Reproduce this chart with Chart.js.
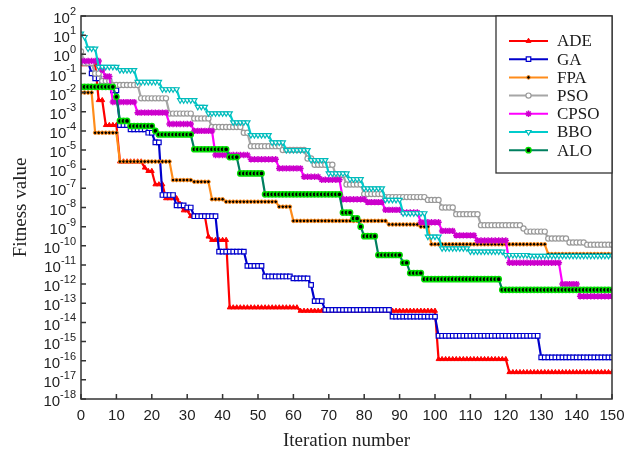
<!DOCTYPE html>
<html>
<head>
<meta charset="utf-8">
<script src="https://cdn.jsdelivr.net/npm/chart.js@4.4.1/dist/chart.umd.min.js"></script>
<style>
body { margin: 0; background: #fff; }
</style>
</head>
<body>
<canvas id="fitChart" width="624" height="455"></canvas>
<script>
var lastIteration = 150;
var seriesNames = ["ADE", "GA", "FPA", "PSO", "CPSO", "BBO", "ALO"];

// each pair: [iteration where the level starts, best fitness value]
var adeSteps = [[0, 3e-1], [5, 4e-3], [7, 2e-4], [11, 2.5e-6], [18, 1.2e-6], [19, 8e-7], [21, 1.6e-7],
    [24, 3e-8], [28, 1.5e-8], [29, 7e-9], [31, 3.5e-9], [36, 3e-10], [37, 2e-10], [42, 6e-14],
    [62, 4e-14], [101, 1.2e-16], [121, 2.5e-17]];
var gaSteps = [[0, 4e-1], [3, 1e-1], [4, 5.6e-2], [6, 4e-2], [9, 1.3e-2], [11, 2e-4], [14, 1.2e-4],
    [19, 8e-5], [21, 2.5e-5], [23, 4.5e-8], [27, 1.3e-8], [30, 1e-8], [32, 3.5e-9], [39, 5e-11],
    [47, 9e-12], [52, 2.5e-12], [60, 2e-12], [65, 9e-13], [66, 1.3e-13], [69, 4.5e-14],
    [88, 2e-14], [101, 2e-15], [130, 1.5e-16]];
var fpaSteps = [[0, 1e-2], [4, 8e-5], [11, 2.5e-6], [26, 2.7e-7], [32, 2.2e-7], [37, 2.7e-8],
    [41, 2e-8], [56, 1.1e-8], [60, 2e-9], [87, 1.3e-9], [96, 1e-9], [99, 1.2e-10], [132, 3.7e-11]];
var psoSteps = [[0, 1.4], [1, 3.5e-1], [4, 1e-1], [6, 4e-2], [9, 2.5e-2], [17, 5e-3], [25, 8e-4],
    [32, 4.5e-4], [37, 1.6e-4], [46, 8e-5], [48, 1.6e-5], [57, 1e-5], [64, 3.6e-6], [66, 1.7e-6],
    [72, 5e-7], [75, 1.6e-7], [80, 5e-8], [86, 3.5e-8], [98, 2.5e-8], [102, 1e-8], [106, 4.5e-9],
    [113, 1.2e-9], [125, 8e-10], [126, 5.5e-10], [132, 2.4e-10], [138, 1.5e-10], [143, 1.15e-10]];
var cpsoSteps = [[0, 4.5e-1], [6, 1.5e-1], [7, 7e-2], [9, 3.2e-3], [16, 9e-4], [25, 2.3e-4],
    [32, 1e-4], [38, 5.5e-6], [48, 3.3e-6], [56, 1.1e-6], [63, 4e-7], [68, 2.8e-7], [74, 2.7e-8],
    [81, 1.9e-8], [86, 7.5e-9], [91, 5.5e-9], [96, 1.7e-9], [102, 6e-10], [106, 3.5e-10],
    [112, 1.9e-10], [121, 1.3e-11], [136, 1e-12], [141, 2.3e-13]];
var bboSteps = [[0, 12], [1, 8], [2, 2], [5, 2.2e-1], [11, 1.5e-1], [16, 3.6e-2], [23, 1.5e-2],
    [28, 4e-3], [33, 1.8e-3], [36, 8.3e-4], [43, 2.8e-4], [48, 6e-5], [54, 2.5e-5], [58, 1e-5],
    [65, 3e-6], [70, 6e-7], [76, 3e-7], [80, 1e-7], [86, 2.5e-8], [91, 5e-9], [98, 3e-10],
    [102, 7.4e-11], [110, 5e-11], [120, 3.3e-11], [127, 3e-11]];
var aloSteps = [[0, 2e-2], [10, 6e-3], [11, 3.3e-4], [14, 1.8e-4], [21, 1e-4], [22, 6.5e-5],
    [32, 1.1e-5], [42, 4.3e-6], [45, 6e-7], [52, 4.9e-8], [74, 5.4e-9], [77, 2.7e-9], [79, 1e-9],
    [80, 3.2e-10], [84, 3.3e-11], [91, 1.3e-11], [93, 3.8e-12], [97, 1.8e-12], [119, 5e-13]];

var yExponents = [-18, -17, -16, -15, -14, -13, -12, -11, -10, -9, -8, -7, -6, -5, -4, -3, -2, -1, 0, 1, 2];
var xTickStep = 10;

var allSteps = [adeSteps, gaSteps, fpaSteps, psoSteps, cpsoSteps, bboSteps, aloSteps];

var looks = [
    { line: "#ff0000", point: "triangle", rot: 0, fill: "#ff0000", edge: "#ff0000", r: 2.8, bw: 1 },
    { line: "#0000cc", point: "rect", rot: 0, fill: "#ffffff", edge: "#0000cc", r: 3.2, bw: 1.2 },
    { line: "#ff8c1a", point: "circle", rot: 0, fill: "#000000", edge: "#ff8c1a", r: 1.8, bw: 1 },
    { line: "#a6a6a6", point: "circle", rot: 0, fill: "#ffffff", edge: "#999999", r: 2.6, bw: 1.2 },
    { line: "#ff00ff", point: "star", rot: 0, fill: "#cc00cc", edge: "#cc00cc", r: 3.2, bw: 1.5 },
    { line: "#00cccc", point: "triangle", rot: 180, fill: "#ffffff", edge: "#00bcbc", r: 3, bw: 1.2 },
    { line: "#007f5f", point: "circle", rot: 0, fill: "#000000", edge: "#00dd00", r: 2.6, bw: 1.5 }
];

// step levels are held until the next improvement
function levelsPerIteration(steps) {
    var pts = [];
    var k = 0;
    for (var it = 0; it <= lastIteration; it++) {
        while (k + 1 < steps.length && steps[k + 1][0] <= it) k++;
        pts.push({ x: it, y: steps[k][1] });
    }
    return pts;
}

var datasets = seriesNames.map(function (name, i) {
    var s = looks[i];
    return {
        label: name,
        data: levelsPerIteration(allSteps[i]),
        borderColor: s.line,
        borderWidth: 2.2,
        backgroundColor: s.fill,
        pointStyle: s.point,
        pointRotation: s.rot,
        pointRadius: s.r,
        pointBackgroundColor: s.fill,
        pointBorderColor: s.edge,
        pointBorderWidth: s.bw,
        tension: 0,
        order: seriesNames.length - i
    };
});

var tickFont = "'Liberation Sans', Arial, sans-serif";

var framePlugin = {
    id: "frame",
    afterDatasetsDraw: function (chart) {
        var a = chart.chartArea, ctx = chart.ctx;
        ctx.save();
        ctx.strokeStyle = "#333";
        ctx.lineWidth = 1.5;
        ctx.strokeRect(a.left, a.top, a.right - a.left, a.bottom - a.top);
        ctx.beginPath();
        chart.scales.x.ticks.forEach(function (t) {
            var px = chart.scales.x.getPixelForValue(t.value);
            ctx.moveTo(px, a.bottom);
            ctx.lineTo(px, a.bottom - 5);
        });
        chart.scales.y.ticks.forEach(function (t) {
            var py = chart.scales.y.getPixelForValue(t.value);
            ctx.moveTo(a.left, py);
            ctx.lineTo(a.left + 5, py);
        });
        ctx.stroke();

        // power-of-ten labels with a raised exponent
        ctx.fillStyle = "#222";
        ctx.textBaseline = "middle";
        ctx.textAlign = "left";
        chart.scales.y.ticks.forEach(function (t) {
            var e = String(Math.round(Math.log10(t.value)));
            var py = chart.scales.y.getPixelForValue(t.value);
            ctx.font = "11px " + tickFont;
            var we = ctx.measureText(e).width;
            ctx.font = "15px " + tickFont;
            var wb = ctx.measureText("10").width;
            var right = a.left - 5;
            ctx.fillText("10", right - we - wb, py + 3);
            ctx.font = "11px " + tickFont;
            ctx.fillText(e, right - we, py - 4);
        });
        ctx.restore();
    }
};

var boxLegend = {
    id: "boxLegend",
    afterDraw: function (chart) {
        var a = chart.chartArea, ctx = chart.ctx;
        var left = a.right - 116, top = a.top, w = 116, h = 157;
        ctx.save();
        ctx.fillStyle = "#ffffff";
        ctx.fillRect(left, top, w, h);
        ctx.strokeStyle = "#333";
        ctx.lineWidth = 1.3;
        ctx.strokeRect(left, top, w, h);
        ctx.font = "17px 'Liberation Serif', 'Times New Roman', serif";
        ctx.textBaseline = "middle";
        chart.data.datasets.forEach(function (ds, i) {
            var y = top + 25 + i * 18.2;
            ctx.strokeStyle = ds.borderColor;
            ctx.lineWidth = 2;
            ctx.beginPath();
            ctx.moveTo(left + 13, y);
            ctx.lineTo(left + 52, y);
            ctx.stroke();
            ctx.fillStyle = ds.pointBackgroundColor;
            ctx.strokeStyle = ds.pointBorderColor;
            ctx.lineWidth = ds.pointBorderWidth;
            Chart.helpers.drawPoint(ctx, {
                pointStyle: ds.pointStyle, rotation: ds.pointRotation,
                radius: ds.pointRadius, borderWidth: ds.pointBorderWidth
            }, left + 32.5, y);
            ctx.fillStyle = "#1a1a1a";
            ctx.fillText(ds.label, left + 61, y + 1);
        });
        ctx.restore();
    }
};

new Chart(document.getElementById("fitChart").getContext("2d"), {
    type: "line",
    data: { datasets: datasets },
    options: {
        responsive: false,
        animation: false,
        layout: { padding: { left: 6, right: 12, top: 16, bottom: 0 } },
        plugins: {
            legend: { display: false },
            tooltip: { enabled: false }
        },
        scales: {
            x: {
                type: "linear",
                min: 0,
                max: lastIteration,
                afterFit: function (s) { s.height = 56; s.paddingLeft = 0; s.paddingRight = 0; },
                grid: { display: false, drawTicks: false },
                border: { display: false },
                ticks: {
                    stepSize: xTickStep,
                    padding: 8,
                    color: "#222",
                    font: { size: 15, family: tickFont }
                },
                title: {
                    display: true,
                    text: "Iteration number",
                    color: "#222",
                    padding: { top: 0, bottom: 3 },
                    font: { size: 19, family: "'Liberation Serif', 'Times New Roman', serif" }
                }
            },
            y: {
                type: "logarithmic",
                min: Math.pow(10, yExponents[0]),
                max: Math.pow(10, yExponents[yExponents.length - 1]),
                afterFit: function (s) { s.width = 75; s.paddingTop = 0; s.paddingBottom = 0; },
                afterBuildTicks: function (s) {
                    s.ticks = yExponents.map(function (e) { return { value: Math.pow(10, e) }; });
                },
                grid: { display: false, drawTicks: false },
                border: { display: false },
                ticks: {
                    autoSkip: false,
                    padding: 5,
                    color: "rgba(0,0,0,0)",
                    font: { size: 15, family: tickFont },
                    callback: function (v) { return "10^" + Math.round(Math.log10(v)); }
                },
                title: {
                    display: true,
                    text: "Fitness value",
                    color: "#222",
                    padding: { top: 4, bottom: 0 },
                    font: { size: 19, family: "'Liberation Serif', 'Times New Roman', serif" }
                }
            }
        }
    },
    plugins: [framePlugin, boxLegend]
});
</script>
</body>
</html>
